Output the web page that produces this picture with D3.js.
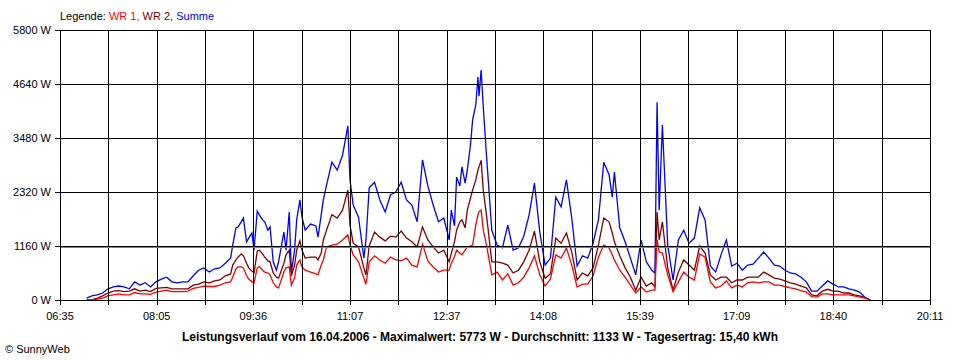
<!DOCTYPE html>
<html>
<head>
<meta charset="utf-8">
<script src="https://cdn.jsdelivr.net/npm/d3@7"></script>
<style>
  html, body { margin: 0; padding: 0; background: #fff; }
  svg { display: block; }
  text { font-family: "Liberation Sans", Arial, sans-serif; font-size: 11px; fill: #000; }
</style>
</head>
<body>
<svg id="chart" width="960" height="360"></svg>
<script>
// ---- data ----
const times = [
  "07:00","07:05","07:10","07:15","07:20","07:25","07:30","07:35","07:40","07:45","07:50","07:55",
  "08:00","08:05","08:10","08:15","08:20","08:25","08:30","08:35","08:40","08:45","08:50","08:55",
  "09:00","09:05","09:10","09:15","09:17","09:20","09:22","09:25","09:27","09:30","09:32","09:35","09:37","09:40","09:42","09:45","09:47","09:50","09:52","09:55","09:58",
  "10:00","10:05","10:07","10:10","10:12","10:15","10:17","10:20","10:22","10:25","10:30","10:35","10:37","10:40","10:42","10:45","10:50","10:55",
  "11:00","11:05","11:07","11:10","11:15","11:20","11:22","11:25","11:30","11:35","11:40","11:45","11:50","11:55",
  "12:00","12:05","12:10","12:15","12:20","12:25","12:30","12:35","12:40","12:42","12:45","12:47","12:50","12:52","12:55","12:57",
  "13:00","13:02","13:05","13:07","13:08","13:10","13:12","13:15","13:20","13:25","13:30","13:35","13:40","13:45","13:50","13:55",
  "14:00","14:05","14:10","14:15","14:20","14:25","14:30","14:35","14:40","14:45","14:50","14:55",
  "15:00","15:05","15:10","15:13","15:15","15:20","15:25","15:30","15:35","15:40","15:45","15:50","15:53","15:55","15:57",
  "16:00","16:05","16:10","16:15","16:20","16:25","16:30","16:35","16:40","16:45","16:50","16:55",
  "17:00","17:05","17:10","17:15","17:20","17:25","17:30","17:35","17:40","17:45","17:50","17:55",
  "18:00","18:05","18:10","18:15","18:20","18:25","18:30","18:35","18:40","18:45","18:50","18:55",
  "19:00","19:05","19:10","19:15"
];
const summe = [
  40,90,110,150,240,280,300,280,240,390,320,370,
  280,390,450,490,390,370,390,390,520,640,690,600,
  670,690,790,900,1180,1550,1570,1680,1760,1250,1330,1440,1070,1910,1830,1720,1680,1500,1570,820,640,
  820,1460,1070,1890,600,1070,1720,2150,1780,1500,1630,1590,1350,1830,2150,2470,2960,2790,
  3110,3740,2580,2040,1780,900,1290,2410,2530,2150,1890,2260,2320,2530,
  2150,2040,1680,3010,2450,2040,1680,1760,1290,1930,1590,2640,2450,2860,2510,2790,
  3330,3870,4190,4790,4380,4940,4150,3110,1500,1180,1120,1610,1070,1120,1370,1830,
  2510,1460,750,900,2210,2000,2580,1760,730,950,900,1220,
  1720,2960,2690,2210,2750,1550,1250,900,540,1290,820,640,580,4250,1930,
  3760,1180,430,1290,1500,1220,1330,1980,1720,730,600,970,
  1290,730,790,640,750,770,900,1030,900,750,730,640,
  580,560,490,390,190,190,300,410,340,280,280,240,
  210,170,60,0
];
const wr2 = [
  0,10,40,90,150,190,200,180,190,240,190,210,
  180,250,260,270,240,240,240,240,320,340,390,370,
  410,430,520,560,750,860,920,990,950,790,690,620,580,1050,1070,990,920,840,820,580,490,
  470,790,970,1070,520,750,1070,1270,1070,900,920,920,860,1010,1290,1500,1830,1760,
  1930,2360,1610,1220,1140,690,540,1160,1460,1350,1270,1370,1350,1480,
  1330,1250,1140,1570,1290,1140,1010,1070,820,1000,1250,1500,1680,1720,1550,1930,
  2190,2360,2580,2790,2860,3000,2360,1830,820,820,790,750,580,640,820,1070,
  1480,820,470,560,1330,1220,1440,1030,430,580,520,690,
  1180,1760,1680,1440,1250,950,690,490,210,490,300,370,280,1890,1290,
  1680,690,210,600,860,750,640,1160,1010,540,430,490,
  490,370,430,430,490,490,490,600,540,470,450,410,
  370,340,300,260,110,90,190,230,190,190,150,150,
  110,90,50,0
];
const wr1 = [
  0,0,20,40,90,110,130,110,110,160,130,130,
  120,170,190,210,180,180,180,190,250,270,300,290,
  290,320,370,390,490,670,710,710,690,520,450,390,370,690,720,640,600,580,540,370,280,
  260,600,690,710,320,470,750,860,710,640,600,560,540,750,860,1140,1180,1200,
  1290,1400,1180,970,820,470,340,820,950,860,790,920,860,840,
  900,750,710,1200,840,710,600,640,640,790,930,1070,1010,970,1070,1140,
  1160,1180,1610,1830,1900,1930,1500,1180,540,600,430,560,320,370,490,690,
  950,540,300,450,970,900,1120,750,280,340,340,520,
  920,1180,1120,970,860,640,490,320,150,280,170,210,210,1290,1030,
  1010,540,180,390,600,490,430,990,920,390,260,300,
  410,260,320,280,370,390,370,390,390,320,320,290,
  260,240,200,170,70,60,130,130,110,110,110,110,
  90,60,40,0
];
const yTicks = [0, 1160, 2320, 3480, 4640, 5800];
const xTickLabels = ["06:35","08:05","09:36","11:07","12:37","14:08","15:39","17:09","18:40","20:11"];
const average = 1133;
const legendParts = [
  { text: "Legende: ", color: "#000000" },
  { text: "WR 1, ", color: "#ff0000" },
  { text: "WR 2, ", color: "#800000" },
  { text: "Summe", color: "#0000ff" }
];
const title = "Leistungsverlauf vom 16.04.2006 - Maximalwert: 5773 W - Durchschnitt: 1133 W - Tagesertrag: 15,40 kWh";
const credit = "\u00A9 SunnyWeb";

(function () {
  const toMin = s => { const [h, m] = s.split(":").map(Number); return h * 60 + m; };
  const svg = d3.select("#chart");
  const pL = 60, pR = 930, pT = 30, pB = 300;
  const tStart = toMin("06:35"), tEnd = toMin("20:11");
  const x = d3.scaleLinear().domain([tStart, tEnd]).range([pL, pR]);
  const y = d3.scaleLinear().domain([0, 5800]).range([pB, pT]);
  const crisp = v => Math.round(v) + 0.5;

  // data lines
  const series = [
    { values: summe, color: "#0000ff" },
    { values: wr2, color: "#800000" },
    { values: wr1, color: "#ff0000" }
  ];
  const line = d3.line().x(d => x(d.t)).y(d => y(d.v));
  series.forEach(s => {
    const pts = times.map((t, i) => ({ t: toMin(t), v: s.values[i] }));
    svg.append("path")
      .attr("d", line(pts))
      .attr("fill", "none")
      .attr("stroke", s.color)
      .attr("stroke-width", 1.3)
      .attr("stroke-linejoin", "miter");
  });

  // vertical grid every (tEnd - tStart)/18
  const nV = 18;
  const gStep = (tEnd - tStart) / nV;
  const vTicks = d3.range(nV + 1).map(i => tStart + i * gStep);
  const grid = svg.append("g").attr("stroke", "#000").attr("stroke-width", 1).attr("shape-rendering", "crispEdges");
  vTicks.forEach(t => {
    grid.append("line")
      .attr("x1", crisp(x(t))).attr("x2", crisp(x(t)))
      .attr("y1", pT).attr("y2", pB + 5);
  });
  yTicks.forEach(v => {
    grid.append("line")
      .attr("x1", pL - 5).attr("x2", pR + 1)
      .attr("y1", crisp(y(v))).attr("y2", crisp(y(v)));
  });
  // average line (grey)
  svg.append("line")
    .attr("x1", pL + 1).attr("x2", pR)
    .attr("y1", crisp(y(average))).attr("y2", crisp(y(average)))
    .attr("stroke", "#808080").attr("stroke-width", 1).attr("shape-rendering", "crispEdges");

  // y labels
  svg.append("g").selectAll("text").data(yTicks).join("text")
    .attr("x", 51).attr("y", d => y(d) + 4)
    .attr("text-anchor", "end")
    .text(d => d + " W");

  // x labels (every second gridline)
  svg.append("g").selectAll("text").data(xTickLabels).join("text")
    .attr("x", (d, i) => x(vTicks[i * 2]))
    .attr("y", 320)
    .attr("text-anchor", "middle")
    .text(d => d);

  // legend
  const leg = svg.append("text").attr("x", 60).attr("y", 20);
  legendParts.forEach(p => leg.append("tspan").style("fill", p.color).text(p.text));

  // title
  svg.append("text").attr("x", 480).attr("y", 341)
    .attr("text-anchor", "middle")
    .style("font-weight", "bold")
    .style("font-size", "12px")
    .text(title);

  // credit
  svg.append("text").attr("x", 5).attr("y", 353).text(credit);
})();
</script>
</body>
</html>
